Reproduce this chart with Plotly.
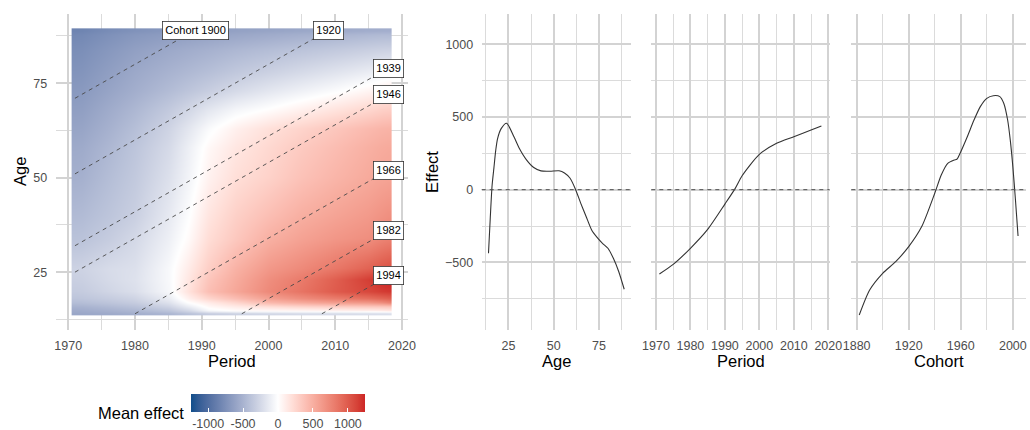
import plotly.graph_objects as go

# ---------------- data ----------------
period_grid = [1971, 1972, 1976, 1980, 1985, 1988, 1991, 1995, 2000, 2005, 2010, 2015, 2017, 2018]
age_grid = [14, 15, 16, 17, 18, 20, 23, 26, 34, 40, 50, 58, 63, 68, 73, 78, 84, 88, 89]
mean_effect = [
    [-580, -578, -560, -530, -480, -400, -330, -290, -260, -240, -230, -220, -215, -210],
    [-550, -545, -510, -470, -380, -250, -50, 20, 40, 60, 80, 100, 120, 140],
    [-500, -495, -450, -400, -280, -120, 40, 120, 200, 260, 300, 330, 340, 350],
    [-430, -425, -380, -330, -190, 0, 120, 250, 430, 520, 600, 640, 700, 760],
    [-380, -375, -330, -280, -120, 90, 250, 400, 580, 700, 800, 880, 930, 960],
    [-340, -335, -270, -210, -50, 180, 400, 550, 730, 860, 1000, 1100, 1150, 1170],
    [-310, -305, -240, -190, -40, 150, 360, 520, 700, 820, 980, 1150, 1230, 1245],
    [-290, -285, -230, -200, -40, 120, 300, 480, 640, 730, 840, 960, 1020, 1050],
    [-400, -395, -330, -250, -100, 30, 210, 340, 490, 580, 650, 700, 760, 780],
    [-450, -445, -380, -310, -140, -10, 160, 290, 400, 500, 570, 630, 670, 690],
    [-520, -515, -430, -350, -200, -70, 80, 200, 280, 380, 460, 530, 560, 570],
    [-560, -555, -470, -380, -240, -100, 40, 150, 240, 330, 410, 490, 520, 530],
    [-600, -595, -510, -420, -280, -160, -30, 90, 190, 270, 350, 430, 460, 470],
    [-640, -635, -550, -470, -350, -260, -160, -60, 10, 90, 170, 250, 290, 300],
    [-680, -675, -600, -530, -440, -380, -320, -240, -160, -90, -20, 60, 100, 120],
    [-720, -715, -640, -570, -500, -460, -420, -360, -300, -240, -180, -120, -90, -80],
    [-760, -755, -690, -630, -570, -540, -510, -470, -430, -390, -350, -310, -295, -290],
    [-800, -795, -740, -690, -650, -630, -610, -580, -550, -520, -490, -460, -450, -450],
    [-830, -825, -770, -730, -690, -670, -650, -620, -600, -580, -560, -540, -535, -530],
]
effect_limit = 1245

cohort_lines = [1900, 1920, 1939, 1946, 1966, 1982, 1994]
period_min, period_max = 1971, 2018
age_min, age_max = 14, 89

age_values = [14, 15, 16, 17, 18, 19, 21, 24, 28, 31, 35, 39, 43, 48, 53, 56, 59, 62, 65, 68, 71, 74, 77, 80, 83, 86, 89]
age_effect = [-437, -190, 30, 150, 270, 350, 420, 457, 365, 285, 205, 152, 129, 127, 130, 115, 80, 5, -94, -186, -277, -328, -369, -403, -472, -564, -685]

period_values = [1971, 1975, 1980, 1985, 1990, 1993, 1995, 2000, 2005, 2010, 2015, 2018]
period_effect = [-580, -514, -403, -273, -99, 9, 96, 243, 319, 364, 410, 438]

cohort_values = [1882, 1890, 1900, 1910, 1920, 1930, 1940, 1945, 1950, 1955, 1957, 1960, 1965, 1970, 1975, 1980, 1985, 1990, 1993, 1996, 1998, 2000, 2002, 2004]
cohort_effect = [-862, -690, -575, -495, -392, -254, -25, 101, 181, 204, 209, 261, 364, 475, 571, 628, 646, 640, 594, 479, 342, 158, -71, -319]

# ---------------- colours (ggplot gradient2, Lab interpolation) ----------------
def _lin(c):
    c = c / 255
    return c / 12.92 if c <= 0.04045 else ((c + 0.055) / 1.055) ** 2.4

def _delin(c):
    v = 12.92 * c if c <= 0.0031308 else 1.055 * c ** (1 / 2.4) - 0.055
    return max(0, min(255, round(v * 255)))

WN = (0.95047, 1.0, 1.08883)

def hex2lab(h):
    r, g, b = [_lin(int(h[i:i + 2], 16)) for i in (1, 3, 5)]
    X = 0.4124 * r + 0.3576 * g + 0.1805 * b
    Y = 0.2126 * r + 0.7152 * g + 0.0722 * b
    Z = 0.0193 * r + 0.1192 * g + 0.9505 * b
    def f(t):
        return t ** (1 / 3) if t > (6 / 29) ** 3 else t / (3 * (6 / 29) ** 2) + 4 / 29
    fx_, fy_, fz_ = f(X / WN[0]), f(Y / WN[1]), f(Z / WN[2])
    return (116 * fy_ - 16, 500 * (fx_ - fy_), 200 * (fy_ - fz_))

def lab2rgb(L, a, b):
    fy_ = (L + 16) / 116
    fx_ = fy_ + a / 500
    fz_ = fy_ - b / 200
    def fi(t):
        return t ** 3 if t > 6 / 29 else 3 * (6 / 29) ** 2 * (t - 4 / 29)
    X, Y, Z = WN[0] * fi(fx_), WN[1] * fi(fy_), WN[2] * fi(fz_)
    r = 3.2406 * X - 1.5372 * Y - 0.4986 * Z
    g = -0.9689 * X + 1.8758 * Y + 0.0415 * Z
    bb = 0.0557 * X - 0.2040 * Y + 1.0570 * Z
    return "rgb(%d,%d,%d)" % (_delin(r), _delin(g), _delin(bb))

low, mid, high = hex2lab("#104E8B"), hex2lab("#FFFFFF"), hex2lab("#CD2626")
colorscale = []
n = 12
for i in range(n + 1):
    t = i / n
    c = [low[k] + (mid[k] - low[k]) * t for k in range(3)]
    colorscale.append([0.5 * t, lab2rgb(*c)])
for i in range(1, n + 1):
    t = i / n
    c = [mid[k] + (high[k] - mid[k]) * t for k in range(3)]
    colorscale.append([0.5 + 0.5 * t, lab2rgb(*c)])

# ---------------- layout geometry ----------------
W, H = 1030, 430
def fx(p):
    return p / W
def fy(p):
    return 1 - p / H

panel_top, panel_bot = 14, 330
FONT = "Liberation Sans, Arial, sans-serif"
TICKC = "#4d4d4d"
GRID = "#d3d3d3"
GRIDMIN = "#dbdbdb"

fig = go.Figure()

fig.add_trace(go.Heatmap(
    x=period_grid, y=age_grid, z=mean_effect, zsmooth="best",
    colorscale=colorscale, zmin=-effect_limit, zmax=effect_limit, zmid=0,
    xaxis="x", yaxis="y", hoverinfo="skip",
    colorbar=dict(
        orientation="h", x=fx(278), xanchor="center", y=fy(394), yanchor="top",
        len=174, lenmode="pixels", thickness=18, thicknessmode="pixels",
        xpad=0, ypad=0, outlinewidth=0,
        tickvals=[-1000, -500, 0, 500, 1000],
        ticktext=["-1000", "-500", "0", "500", "1000"],
        ticks="inside", ticklen=4, tickcolor="white", tickwidth=1,
        tickfont=dict(family=FONT, size=12.5, color=TICKC),
        title=dict(text=""),
    ),
))

# cohort lines
for i, c in enumerate(cohort_lines):
    p0 = max(period_min, c + age_min)
    p1 = min(period_max, c + age_max)
    fig.add_trace(go.Scatter(
        x=[p0, p1], y=[p0 - c, p1 - c], mode="lines",
        line=dict(color="#4a4a4a", width=0.9, dash="4px,4px"),
        xaxis="x", yaxis="y", hoverinfo="skip", showlegend=False,
    ))
    fig.add_annotation(
        x=p1, y=p1 - c, xref="x", yref="y",
        text=("Cohort %d" % c) if i == 0 else str(c),
        showarrow=False, bgcolor="white", bordercolor="#333333", borderwidth=0.8,
        borderpad=2.5, font=dict(family=FONT, size=11, color="black"),
        xanchor="center", yanchor="middle",
    )

# effect curves
for xs, ys, ax in [(age_values, age_effect, 2), (period_values, period_effect, 3), (cohort_values, cohort_effect, 4)]:
    fig.add_shape(type="line", xref="x%d domain" % ax, yref="y%d" % ax, x0=0, x1=1, y0=0, y1=0,
                  line=dict(color="#505050", width=1.0, dash="4px,4px"), layer="above")
    fig.add_trace(go.Scatter(
        x=xs, y=ys, mode="lines", line=dict(color="#333333", width=1.1, shape="spline", smoothing=0.7),
        xaxis="x%d" % ax, yaxis="y%d" % ax, hoverinfo="skip", showlegend=False,
    ))

def xaxis_cfg(dom, rng, major, minor, anchor):
    return dict(domain=[fx(dom[0]), fx(dom[1])], range=rng, anchor=anchor,
                tickmode="array", tickvals=major, showgrid=True, gridcolor=GRID, gridwidth=1.6,
                minor=dict(tickmode="array", tickvals=minor, showgrid=True, gridcolor=GRIDMIN, gridwidth=1.3),
                zeroline=False, showline=False, ticks="outside", ticklen=4, tickcolor="rgba(0,0,0,0)",
                tickfont=dict(family=FONT, size=12.5, color=TICKC))

def yaxis_cfg(rng, major, minor, anchor, labels=True):
    return dict(domain=[fy(panel_bot), fy(panel_top)], range=rng, anchor=anchor,
                tickmode="array", tickvals=major, showgrid=True, gridcolor=GRID, gridwidth=1.6,
                minor=dict(tickmode="array", tickvals=minor, showgrid=True, gridcolor=GRIDMIN, gridwidth=1.3),
                zeroline=False, showline=False, ticks="outside", ticklen=5, tickcolor="rgba(0,0,0,0)",
                showticklabels=labels, tickfont=dict(family=FONT, size=12.5, color=TICKC))

eff_rng = [-965, 1208]
eff_major = [-500, 0, 500, 1000]
eff_minor = [-750, -250, 250, 750]

fig.update_layout(
    width=W, height=H, margin=dict(l=0, r=0, t=0, b=0, autoexpand=False),
    paper_bgcolor="white", plot_bgcolor="white", showlegend=False,
    font=dict(family=FONT),
    xaxis=xaxis_cfg((55.6, 408), [1968.1, 2020.9], [1970, 1980, 1990, 2000, 2010, 2020],
                    [1975, 1985, 1995, 2005, 2015], "y"),
    yaxis=yaxis_cfg([9.7, 93.3], [25, 50, 75], [12.5, 37.5, 62.5, 87.5], "x"),
    xaxis2=xaxis_cfg((481.7, 631), [10.25, 92.75], [25, 50, 75], [12.5, 37.5, 62.5, 87.5], "y2"),
    yaxis2=yaxis_cfg(eff_rng, eff_major, eff_minor, "x2"),
    xaxis3=xaxis_cfg((651.3, 829.5), [1968.65, 2020.35], [1970, 1980, 1990, 2000, 2010, 2020],
                     [1975, 1985, 1995, 2005, 2015], "y3"),
    yaxis3=yaxis_cfg(eff_rng, eff_major, eff_minor, "x3", labels=False),
    xaxis4=xaxis_cfg((851.3, 1026), [1875.9, 2010.1], [1880, 1920, 1960, 2000], [1900, 1940, 1980], "y4"),
    yaxis4=yaxis_cfg(eff_rng, eff_major, eff_minor, "x4", labels=False),
)

# axis titles and legend title as text
titles = [
    ("Period", 232, 361, 0), ("Age", 20, 172, -90), ("Effect", 432, 172, -90),
    ("Age", 556.5, 361, 0), ("Period", 740.5, 361, 0), ("Cohort", 938.5, 361, 0),
]
for txt, px, py, rot in titles:
    fig.add_annotation(x=fx(px), y=fy(py), xref="paper", yref="paper", text=txt, showarrow=False,
                       textangle=rot, xanchor="center", yanchor="middle",
                       font=dict(family=FONT, size=16.5, color="black"))
fig.add_annotation(x=fx(186), y=fy(413), xref="paper", yref="paper", text="Mean effect", showarrow=False,
                   xanchor="right", yanchor="middle", font=dict(family=FONT, size=16.5, color="black"))

fig.write_html("out.html", config={"displayModeBar": False},
               post_script="document.body.style.margin='0px';document.body.style.overflow='hidden';")
